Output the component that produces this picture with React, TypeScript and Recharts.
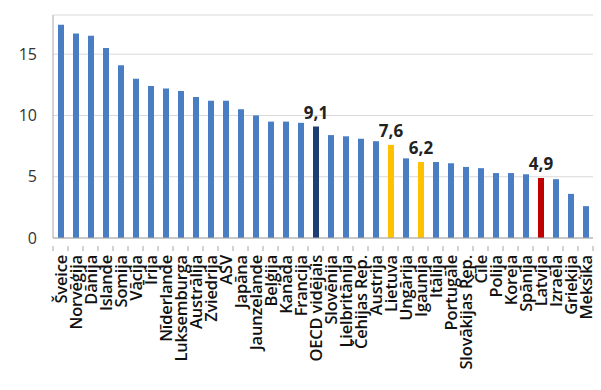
import React from 'react'
import { BarChart, Bar, XAxis, YAxis, CartesianGrid, Cell, LabelList } from 'recharts'

const countries = [
  'Šveice', 'Norvēģija', 'Dānija', 'Islande', 'Somija', 'Vācija', 'Īrija', 'Nīderlande',
  'Luksemburga', 'Austrālija', 'Zviedrija', 'ASV', 'Japāna', 'Jaunzelande', 'Beļģija',
  'Kanāda', 'Francija', 'OECD vidējais', 'Slovēnija', 'Lielbritānija', 'Čehijas Rep.',
  'Austrija', 'Lietuva', 'Ungārija', 'Igaunija', 'Itālija', 'Portugāle', 'Slovākijas Rep.',
  'Čīle', 'Polija', 'Koreja', 'Spānija', 'Latvija', 'Izraēla', 'Grieķija', 'Meksika',
]

const values = [
  17.4, 16.7, 16.5, 15.5, 14.1, 13.0, 12.4, 12.2, 12.0, 11.5, 11.2, 11.2, 10.5, 10.0, 9.5,
  9.5, 9.4, 9.1, 8.4, 8.3, 8.1, 7.9, 7.6, 6.5, 6.2, 6.2, 6.1, 5.8, 5.7, 5.3, 5.3, 5.2, 4.9,
  4.8, 3.6, 2.6,
]

// only these bars carry a value label
const labelled = ['OECD vidējais', 'Lietuva', 'Igaunija', 'Latvija']

const yTicks = [0, 5, 10, 15]

const BAR_COLOR = '#4A7EC4'
const HIGHLIGHT: Record<string, string> = {
  'OECD vidējais': '#1F3F74',
  Lietuva: '#FFC000',
  Igaunija: '#FFC000',
  Latvija: '#C00000',
}

const data = countries.map((name, i) => ({
  name,
  value: values[i],
  label: labelled.includes(name) ? values[i].toFixed(1).replace('.', ',') : '',
}))

const FONT = '"Open Sans", "Noto Sans", sans-serif'

const CountryTick = (props: any) => {
  const { x, y, payload, index } = props
  return (
    <g transform={`translate(${x},${y})`}>
      <line x1={-7.5} y1={0} x2={-7.5} y2={5} stroke="#a6a6a6" />
      {index === countries.length - 1 && (
        <line x1={7.5} y1={0} x2={7.5} y2={5} stroke="#a6a6a6" />
      )}
      <text
        transform="rotate(-90)"
        x={-9}
        y={6}
        textAnchor="end"
        fontSize={16.5}
        fontWeight={600}
        fontFamily={FONT}
        fill="#111"
        letterSpacing={-0.2}
      >
        {payload.value}
      </text>
    </g>
  )
}

export default function App() {
  return (
    <div style={{ position: 'absolute', left: 0, top: 0, background: '#fff' }}>
      <BarChart
        width={601}
        height={390}
        data={data}
        margin={{ top: 15, right: 8, left: 0, bottom: 0 }}
        barCategoryGap={0}
      >
        <CartesianGrid vertical={false} stroke="#d9d9d9" />
        <XAxis
          dataKey="name"
          interval={0}
          height={152}
          tickLine={false}
          axisLine={{ stroke: '#a6a6a6' }}
          tick={<CountryTick />}
        />
        <YAxis
          domain={[0, 18.2]}
          ticks={yTicks}
          width={53}
          tickLine={false}
          axisLine={{ stroke: '#a6a6a6' }}
          tick={{ fontSize: 16, fill: '#333', fontFamily: FONT }}
          tickMargin={10}
        />
        <Bar dataKey="value" barSize={6} isAnimationActive={false}>
          {data.map((d) => (
            <Cell key={d.name} fill={HIGHLIGHT[d.name] ?? BAR_COLOR} />
          ))}
          <LabelList
            dataKey="label"
            position="top"
            offset={8}
            style={{ fontSize: 17, fontWeight: 700, fill: '#222', fontFamily: FONT }}
          />
        </Bar>
      </BarChart>
    </div>
  )
}
